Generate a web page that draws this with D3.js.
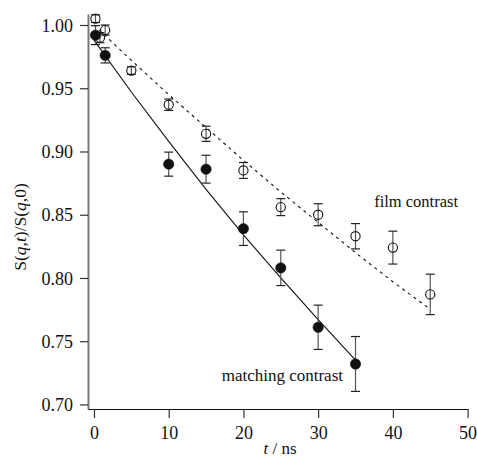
<!DOCTYPE html>
<html><head><meta charset="utf-8">
<script src="https://cdn.jsdelivr.net/npm/d3@7/dist/d3.min.js"></script>
<style>body{margin:0;background:#fff}svg{display:block}</style>
</head><body><div id="chart"></div>
<script>
// matching contrast (filled)
const matchT   = [0.2, 1.5, 10, 15, 20, 25, 30, 35];
const matchS   = [0.992, 0.976, 0.890, 0.886, 0.839, 0.808, 0.761, 0.732];
const matchErr = [0.0075, 0.006, 0.0095, 0.011, 0.0133, 0.014, 0.0175, 0.0217];
// film contrast (open)
const filmT   = [0.2, 0.8, 1.5, 5, 10, 15, 20, 25, 30, 35, 40, 45];
const filmS   = [1.005, 0.990, 0.996, 0.964, 0.937, 0.914, 0.885, 0.856, 0.850, 0.833, 0.824, 0.787];
const filmErr = [0.003, 0.004, 0.004, 0.003, 0.0045, 0.006, 0.0063, 0.0067, 0.0087, 0.010, 0.013, 0.016];
// fit curves
const matchFitT = [0, 5, 10, 15, 20, 25, 30, 35];
const matchFitS = [0.988, 0.947, 0.908, 0.870, 0.834, 0.800, 0.767, 0.735];
const filmFitT  = [0, 5, 10, 15, 20, 25, 30, 35, 40, 44.6];
const filmFitS  = [1.000, 0.972, 0.945, 0.919, 0.893, 0.868, 0.844, 0.820, 0.797, 0.777];
// ticks & labels
const xTicks = [0, 10, 20, 30, 40, 50];
const yTicks = [0.70, 0.75, 0.80, 0.85, 0.90, 0.95, 1.00];
const labels = {film: "film contrast", match: "matching contrast", x: "/ ns", y: "S(q,t)/S(q,0)"};

const FONT = "Liberation Serif";
const W = 477, H = 457;
const svg = d3.select("#chart").append("svg").attr("width", W).attr("height", H);
const x = d3.scaleLinear().domain([-0.8, 50]).range([88, 467.6]);
const y = d3.scaleLinear().domain([0.6964, 1.0087]).range([409, 14]);

// y axis (gray)
const yAxis = svg.append("g").attr("transform", "translate(88,0)")
  .call(d3.axisLeft(y).tickValues(yTicks).tickFormat(d3.format(".2f")).tickSize(8).tickPadding(7).tickSizeOuter(0));
yAxis.attr("font-family", FONT).attr("font-size", 18);
yAxis.select(".domain").attr("stroke", "#7a7a7a").attr("stroke-width", 2);
yAxis.selectAll(".tick line").attr("stroke", "#333").attr("stroke-width", 1.2);
yAxis.selectAll(".tick text").attr("font-family", FONT).attr("font-size", 18).attr("fill", "#111").attr("dy", "0.34em");

// x axis
const xAxis = svg.append("g").attr("transform", "translate(0,409)")
  .call(d3.axisBottom(x).tickValues(xTicks).tickFormat(d3.format("d")).tickSize(9).tickPadding(8).tickSizeOuter(0));
xAxis.attr("font-family", FONT).attr("font-size", 18);
xAxis.select(".domain").attr("stroke", "#111").attr("stroke-width", 1.2);
xAxis.selectAll(".tick line").attr("stroke", "#333").attr("stroke-width", 1.2);
xAxis.selectAll(".tick text").attr("font-family", FONT).attr("font-size", 18).attr("fill", "#111");

// axis labels
const xl = svg.append("text").attr("x", 280).attr("y", 454).attr("text-anchor", "middle")
  .attr("font-family", FONT).attr("font-size", 17).attr("fill", "#111");
xl.append("tspan").attr("font-style", "italic").text("t");
xl.append("tspan").text(" " + labels.x);
const yl = svg.append("text").attr("transform", "translate(26,227) rotate(-90)").attr("text-anchor", "middle")
  .attr("font-family", FONT).attr("font-size", 17.5).attr("fill", "#111");
yl.append("tspan").text("S(");
yl.append("tspan").attr("font-style", "italic").text("q");
yl.append("tspan").text(",");
yl.append("tspan").attr("font-style", "italic").text("t");
yl.append("tspan").text(")/S(");
yl.append("tspan").attr("font-style", "italic").text("q");
yl.append("tspan").text(",0)");

// fit lines
const line = d3.line().x(d => x(d[0])).y(d => y(d[1]));
svg.append("path").datum(matchFitT.map((t, i) => [t, matchFitS[i]]))
  .attr("d", line).attr("fill", "none").attr("stroke", "#111").attr("stroke-width", 1.1);
svg.append("path").datum(filmFitT.map((t, i) => [t, filmFitS[i]]))
  .attr("d", line).attr("fill", "none").attr("stroke", "#111").attr("stroke-width", 1.1).attr("stroke-dasharray", "3,4");

function drawSeries(T, S, E, filled) {
  const data = T.map((t, i) => ({t, s: S[i], e: E[i]}));
  const g = svg.append("g");
  const eb = g.selectAll("g.eb").data(data).enter().append("g");
  eb.append("line").attr("x1", d => x(d.t)).attr("x2", d => x(d.t))
    .attr("y1", d => y(d.s - d.e)).attr("y2", d => y(d.s + d.e)).attr("stroke", "#555").attr("stroke-width", 1.2);
  eb.append("line").attr("x1", d => x(d.t) - 4.5).attr("x2", d => x(d.t) + 4.5)
    .attr("y1", d => y(d.s + d.e)).attr("y2", d => y(d.s + d.e)).attr("stroke", "#222").attr("stroke-width", 1.2);
  eb.append("line").attr("x1", d => x(d.t) - 4.5).attr("x2", d => x(d.t) + 4.5)
    .attr("y1", d => y(d.s - d.e)).attr("y2", d => y(d.s - d.e)).attr("stroke", "#222").attr("stroke-width", 1.2);
  g.selectAll("circle").data(data).enter().append("circle")
    .attr("cx", d => x(d.t)).attr("cy", d => y(d.s)).attr("r", filled ? 5.2 : 4.6)
    .attr("fill", filled ? "#111" : "#fff").attr("fill-opacity", filled ? 1 : 0)
    .attr("stroke", "#111").attr("stroke-width", filled ? 0.5 : 1.1);
}
drawSeries(filmT, filmS, filmErr, false);
drawSeries(matchT, matchS, matchErr, true);

svg.append("text").attr("x", 458).attr("y", 207).attr("text-anchor", "end")
  .attr("font-family", FONT).attr("font-size", 16.5).attr("fill", "#111").text(labels.film);
svg.append("text").attr("x", 343).attr("y", 381).attr("text-anchor", "end")
  .attr("font-family", FONT).attr("font-size", 17).attr("fill", "#111").text(labels.match);
</script></body></html>
